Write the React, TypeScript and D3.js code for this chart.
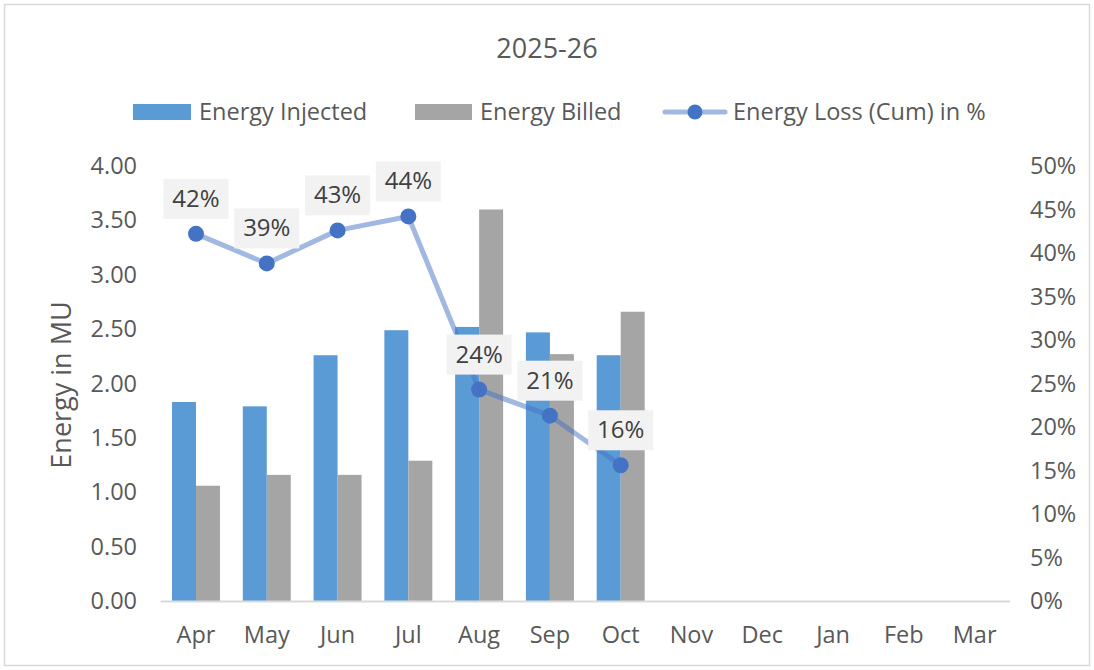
import React from "react";
import * as d3 from "d3";

const months = ["Apr", "May", "Jun", "Jul", "Aug", "Sep", "Oct", "Nov", "Dec", "Jan", "Feb", "Mar"];
const injected: (number | null)[] = [1.83, 1.79, 2.26, 2.49, 2.52, 2.47, 2.26, null, null, null, null, null];
const billed: (number | null)[] = [1.06, 1.16, 1.16, 1.29, 3.6, 2.27, 2.66, null, null, null, null, null];
const lossPct: (number | null)[] = [42.2, 38.8, 42.6, 44.2, 24.3, 21.3, 15.6, null, null, null, null, null];
const leftTicks = [0, 0.5, 1, 1.5, 2, 2.5, 3, 3.5, 4];
const rightTicks = [0, 5, 10, 15, 20, 25, 30, 35, 40, 45, 50];
const seriesNames = ["Energy Injected", "Energy Billed", "Energy Loss (Cum) in %"];
const title = "2025-26";
const yTitle = "Energy in MU";

const W = 1094;
const H = 670;
const FONT = "'Open Sans', 'Noto Sans', sans-serif";
const TXT = "#595959";
const BLUE = "#5B9BD5";
const GRAY = "#A5A5A5";
const LINE = "#4472C4";
const FS = 23.5;

export default function App() {
  const left = 160.6, right = 1010, top = 166, bottom = 601;
  const x = d3.scaleBand<string>().domain(months).range([left, right]).paddingInner(0.322).paddingOuter(0.161);
  const x1 = d3.scaleBand<string>().domain(["inj", "bil"]).range([0, x.bandwidth()]);
  const y = d3.scaleLinear().domain([0, 4]).range([bottom, top]);
  const y2 = d3.scaleLinear().domain([0, 50]).range([bottom, top]);
  const cx = (m: string) => (x(m) as number) + x.bandwidth() / 2;

  const pts = months.map((m, i) => ({ m, v: lossPct[i] })).filter((d) => d.v != null) as { m: string; v: number }[];
  const line = d3.line<{ m: string; v: number }>().x((d) => cx(d.m)).y((d) => y2(d.v));

  return (
    <svg width={W} height={H} style={{ position: "absolute", left: 0, top: 0 }} fontFamily={FONT}>
      <rect x={0} y={0} width={W} height={H} fill="#fff" />
      <rect x={4.5} y={4.5} width={1085} height={661} fill="none" stroke="#d9d9d9" strokeWidth={1.5} />
      <text x={547} y={58} textAnchor="middle" fontSize={27} fill={TXT}>{title}</text>

      {/* legend */}
      <g fontSize={FS} fill={TXT}>
        <rect x={133} y={104} width={58} height={16} fill={BLUE} />
        <text x={199} y={120}>{seriesNames[0]}</text>
        <rect x={415} y={104} width={57} height={16} fill={GRAY} />
        <text x={480} y={120}>{seriesNames[1]}</text>
        <line x1={665} x2={725} y1={112} y2={112} stroke={LINE} strokeOpacity={0.5} strokeWidth={5} strokeLinecap="round" />
        <circle cx={695} cy={112} r={7.5} fill={LINE} />
        <text x={733} y={120}>{seriesNames[2]}</text>
      </g>

      {/* left axis */}
      <g fontSize={FS} fill={TXT} textAnchor="end">
        {leftTicks.map((t) => (
          <text key={t} x={137} y={y(t) + 8}>{t.toFixed(2)}</text>
        ))}
      </g>
      <text transform={`translate(71,385) rotate(-90)`} textAnchor="middle" fontSize={27} fill={TXT}>{yTitle}</text>

      {/* right axis */}
      <g fontSize={FS} fill={TXT} textAnchor="start">
        {rightTicks.map((t) => (
          <text key={t} x={1030} y={y2(t) + 8}>{t + "%"}</text>
        ))}
      </g>

      {/* bars */}
      {months.map((m, i) => (
        <g key={m}>
          {injected[i] != null && (
            <rect x={(x(m) as number) + (x1("inj") as number)} y={y(injected[i] as number)} width={x1.bandwidth()} height={bottom - y(injected[i] as number)} fill={BLUE} />
          )}
          {billed[i] != null && (
            <rect x={(x(m) as number) + (x1("bil") as number)} y={y(billed[i] as number)} width={x1.bandwidth()} height={bottom - y(billed[i] as number)} fill={GRAY} />
          )}
        </g>
      ))}

      {/* x axis */}
      <line x1={left} x2={right} y1={bottom + 0.5} y2={bottom + 0.5} stroke="#d9d9d9" strokeWidth={2} />
      <g fontSize={FS} fill={TXT} textAnchor="middle">
        {months.map((m) => (
          <text key={m} x={cx(m)} y={643}>{m}</text>
        ))}
      </g>

      {/* line */}
      <path d={line(pts) || ""} fill="none" stroke={LINE} strokeOpacity={0.5} strokeWidth={5} strokeLinejoin="round" />
      {pts.map((d) => (
        <circle key={d.m} cx={cx(d.m)} cy={y2(d.v)} r={8} fill={LINE} />
      ))}
      {pts.map((d) => {
        const px = cx(d.m);
        const py = y2(d.v) - 35;
        return (
          <g key={"l" + d.m}>
            <rect x={px - 32.5} y={py - 20} width={65} height={40} fill="#f2f2f2" />
            <text x={px} y={py + 8} textAnchor="middle" fontSize={24} fill="#404040">{Math.round(d.v) + "%"}</text>
          </g>
        );
      })}
    </svg>
  );
}
